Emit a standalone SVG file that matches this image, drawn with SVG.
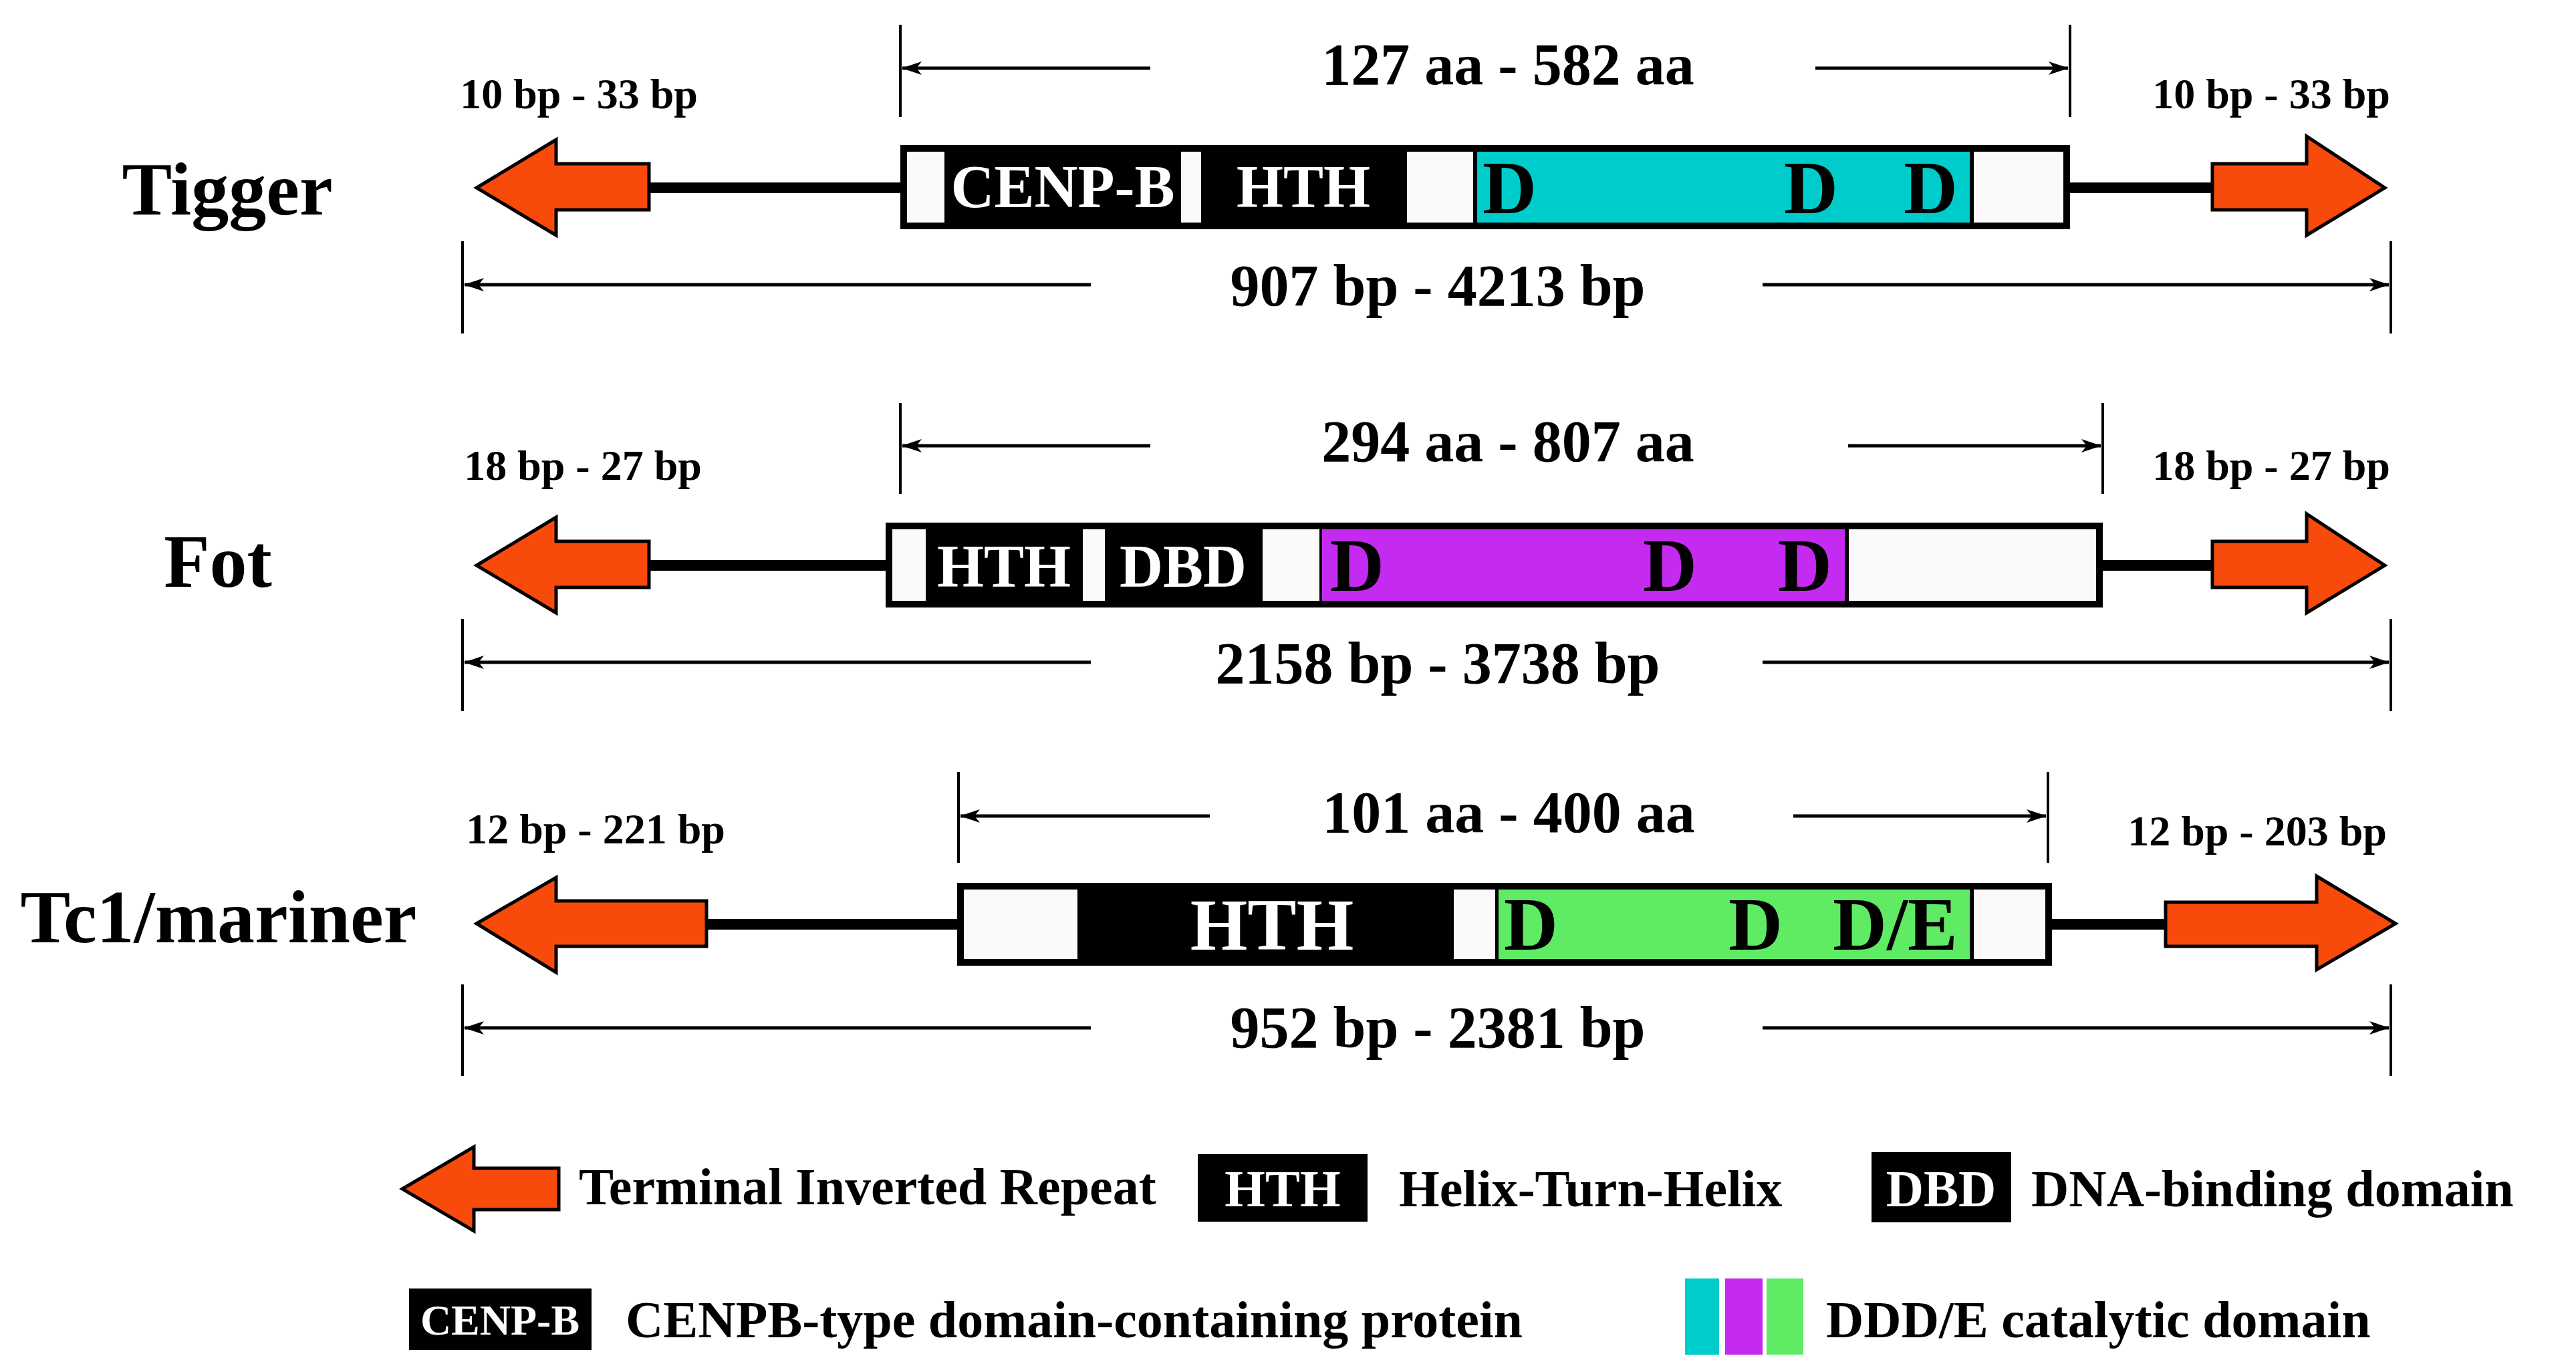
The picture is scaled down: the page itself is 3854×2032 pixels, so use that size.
<svg xmlns="http://www.w3.org/2000/svg" width="3854" height="2032" viewBox="0 0 3854 2032">
<style>
text{font-family:"Liberation Serif","Times New Roman",serif;font-weight:bold;fill:#000}
.mid{text-anchor:middle}
.w{fill:#fff}
.tir{fill:#F84A0B;stroke:#000;stroke-width:5}
.dim{stroke:#000;stroke-width:5;fill:none}
.tick{stroke:#000;stroke-width:4}
.link{stroke:#000;stroke-width:16}
.seg{fill:#FBF9FA}
.blk{fill:#000}
.cy{fill:#00CCCC}.pu{fill:#C42AF0}.gr{fill:#5FEB64}
.name{font-size:112px}
.sm{font-size:64px}
.len{font-size:88px}
.in{font-size:90px}
.dd{font-size:112px}
</style>
<defs>
<marker id="ah" viewBox="0 0 30 20" refX="29" refY="10" markerWidth="30" markerHeight="20" markerUnits="userSpaceOnUse" orient="auto-start-reverse">
<path d="M0,0 L30,10 L0,20 L8,10 Z" fill="#000"/>
</marker>
</defs>

<g id="connectors">
<!-- Tigger -->
<line class="link" x1="960" y1="281" x2="1347" y2="281"/>
<line class="link" x1="3097" y1="281" x2="3315" y2="281"/>
<line class="tick" x1="1347" y1="37" x2="1347" y2="175"/>
<line class="tick" x1="3097" y1="37" x2="3097" y2="175"/>
<line class="dim" x1="1721" y1="102" x2="1350" y2="102" marker-end="url(#ah)"/>
<line class="dim" x1="2716" y1="102" x2="3094" y2="102" marker-end="url(#ah)"/>
<line class="tick" x1="692" y1="361" x2="692" y2="499"/>
<line class="tick" x1="3577" y1="361" x2="3577" y2="499"/>
<line class="dim" x1="1632" y1="426" x2="695" y2="426" marker-end="url(#ah)"/>
<line class="dim" x1="2637" y1="426" x2="3574" y2="426" marker-end="url(#ah)"/>
<!-- Fot -->
<line class="link" x1="960" y1="846" x2="1325" y2="846"/>
<line class="link" x1="3146" y1="846" x2="3315" y2="846"/>
<line class="tick" x1="1347" y1="603" x2="1347" y2="739"/>
<line class="tick" x1="3146" y1="603" x2="3146" y2="739"/>
<line class="dim" x1="1721" y1="667" x2="1350" y2="667" marker-end="url(#ah)"/>
<line class="dim" x1="2765" y1="667" x2="3143" y2="667" marker-end="url(#ah)"/>
<line class="tick" x1="692" y1="926" x2="692" y2="1064"/>
<line class="tick" x1="3577" y1="926" x2="3577" y2="1064"/>
<line class="dim" x1="1632" y1="991" x2="695" y2="991" marker-end="url(#ah)"/>
<line class="dim" x1="2637" y1="991" x2="3574" y2="991" marker-end="url(#ah)"/>
<!-- Tc1 -->
<line class="link" x1="1050" y1="1383" x2="1432" y2="1383"/>
<line class="link" x1="3070" y1="1383" x2="3245" y2="1383"/>
<line class="tick" x1="1434" y1="1155" x2="1434" y2="1291"/>
<line class="tick" x1="3064" y1="1155" x2="3064" y2="1291"/>
<line class="dim" x1="1810" y1="1221" x2="1437" y2="1221" marker-end="url(#ah)"/>
<line class="dim" x1="2683" y1="1221" x2="3061" y2="1221" marker-end="url(#ah)"/>
<line class="tick" x1="692" y1="1473" x2="692" y2="1610"/>
<line class="tick" x1="3577" y1="1473" x2="3577" y2="1610"/>
<line class="dim" x1="1632" y1="1538" x2="695" y2="1538" marker-end="url(#ah)"/>
<line class="dim" x1="2637" y1="1538" x2="3574" y2="1538" marker-end="url(#ah)"/>
</g>

<g id="tigger">
<text class="name mid" x="340" y="321">Tigger</text>
<text class="sm mid" x="866" y="162">10 bp - 33 bp</text>
<text class="sm mid" x="3398" y="162">10 bp - 33 bp</text>
<text class="len mid" x="2256" y="126">127 aa - 582 aa</text>
<text class="len mid" x="2151" y="457">907 bp - 4213 bp</text>
<polygon class="tir" points="713,281 832,209 832,245 971,245 971,314 832,314 832,352"/>
<polygon class="tir" points="3568,281 3451,204 3451,245 3310,245 3310,314 3451,314 3451,352"/>
<rect x="1347" y="217" width="1750" height="126" fill="#000"/>
<rect class="seg" x="1357" y="227" width="56" height="106"/>
<rect class="seg" x="1767" y="227" width="30" height="106"/>
<rect class="seg" x="2105" y="227" width="99" height="106"/>
<rect class="cy" x="2210" y="227" width="737" height="106"/>
<rect class="seg" x="2953" y="227" width="134" height="106"/>
<text class="in w mid" x="1590" y="310">CENP-B</text>
<text class="in w mid" x="1950" y="310">HTH</text>
<text class="dd" x="2218" y="319">D</text>
<text class="dd" x="2669" y="319">D</text>
<text class="dd" x="2848" y="319">D</text>
</g>

<g id="fot">
<text class="name mid" x="326" y="878">Fot</text>
<text class="sm mid" x="872" y="718">18 bp - 27 bp</text>
<text class="sm mid" x="3398" y="718">18 bp - 27 bp</text>
<text class="len mid" x="2256" y="690">294 aa - 807 aa</text>
<text class="len mid" x="2151" y="1022">2158 bp - 3738 bp</text>
<polygon class="tir" points="713,846 832,774 832,810 971,810 971,879 832,879 832,917"/>
<polygon class="tir" points="3568,846 3451,769 3451,810 3310,810 3310,879 3451,879 3451,917"/>
<rect x="1325" y="782" width="1821" height="127" fill="#000"/>
<rect class="seg" x="1335" y="792" width="50" height="107"/>
<rect class="seg" x="1620" y="792" width="33" height="107"/>
<rect class="seg" x="1889" y="792" width="85" height="107"/>
<rect class="pu" x="1978" y="792" width="782" height="107"/>
<rect class="seg" x="2766" y="792" width="370" height="107"/>
<text class="in w mid" x="1502" y="878">HTH</text>
<text class="in w mid" x="1770" y="878">DBD</text>
<text class="dd" x="1990" y="884">D</text>
<text class="dd" x="2458" y="884">D</text>
<text class="dd" x="2660" y="884">D</text>
</g>

<g id="tc1">
<text class="name mid" x="327" y="1410">Tc1/mariner</text>
<text class="sm mid" x="891" y="1262">12 bp - 221 bp</text>
<text class="sm mid" x="3377" y="1265">12 bp - 203 bp</text>
<text class="len mid" x="2257" y="1245">101 aa - 400 aa</text>
<text class="len mid" x="2151" y="1567">952 bp - 2381 bp</text>
<polygon class="tir" points="713,1382 832,1313 832,1348 1057,1348 1057,1416 832,1416 832,1455"/>
<polygon class="tir" points="3584,1382 3466,1311 3466,1350 3240,1350 3240,1416 3466,1416 3466,1451"/>
<rect x="1432" y="1321" width="1638" height="124" fill="#000"/>
<rect class="seg" x="1442" y="1331" width="170" height="104"/>
<rect class="seg" x="2175" y="1331" width="62" height="104"/>
<rect class="gr" x="2242" y="1331" width="705" height="104"/>
<rect class="seg" x="2953" y="1331" width="107" height="104"/>
<text class="w mid" style="font-size:110px" x="1903" y="1421">HTH</text>
<text class="dd" x="2250" y="1421">D</text>
<text class="dd" x="2586" y="1421">D</text>
<text class="dd" x="2742" y="1421">D/E</text>
</g>

<g id="legend">
<polygon class="tir" points="602,1779 709,1716 709,1748 836,1748 836,1810 709,1810 709,1842"/>
<text style="font-size:78px" x="866" y="1802">Terminal Inverted Repeat</text>
<rect x="1792" y="1727" width="254" height="101" fill="#000"/>
<text class="w mid" style="font-size:78px" x="1919" y="1805">HTH</text>
<text style="font-size:78px" x="2093" y="1805">Helix-Turn-Helix</text>
<rect x="2800" y="1724" width="209" height="105" fill="#000"/>
<text class="w mid" style="font-size:78px" x="2904" y="1805">DBD</text>
<text style="font-size:78px" x="3039" y="1805">DNA-binding domain</text>
<rect x="612" y="1928" width="273" height="92" fill="#000"/>
<text class="w mid" style="font-size:64px" x="748" y="1997">CENP-B</text>
<text style="font-size:78px" x="936" y="2001">CENPB-type domain-containing protein</text>
<rect class="cy" x="2521" y="1913" width="51" height="114"/>
<rect class="pu" x="2581" y="1913" width="56" height="114"/>
<rect class="gr" x="2643" y="1913" width="55" height="114"/>
<text style="font-size:78px" x="2732" y="2001">DDD/E catalytic domain</text>
</g>
</svg>
